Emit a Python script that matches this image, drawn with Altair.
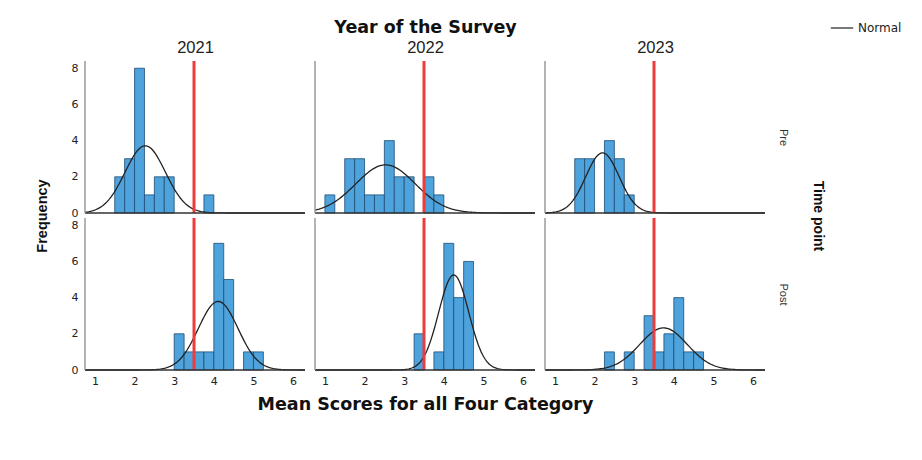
import altair as alt
import numpy as np
import pandas as pd

# ---- data ----
years = ["2021", "2022", "2023"]
times = ["Pre", "Post"]
bin_width = 0.25
cut_off = 3.5

starts_2021_pre = [1.5, 1.75, 2.0, 2.25, 2.5, 2.75, 3.75]
counts_2021_pre = [2, 3, 8, 1, 2, 2, 1]
starts_2022_pre = [1.0, 1.5, 1.75, 2.0, 2.25, 2.5, 2.75, 3.0, 3.5, 3.75]
counts_2022_pre = [1, 3, 3, 1, 1, 4, 2, 2, 2, 1]
starts_2023_pre = [1.5, 1.75, 2.25, 2.5, 2.75]
counts_2023_pre = [3, 3, 4, 3, 1]
starts_2021_post = [3.0, 3.25, 3.5, 3.75, 4.0, 4.25, 4.75, 5.0]
counts_2021_post = [2, 1, 1, 1, 7, 5, 1, 1]
starts_2022_post = [3.25, 3.75, 4.0, 4.25, 4.5]
counts_2022_post = [2, 1, 7, 4, 6]
starts_2023_post = [2.25, 2.75, 3.25, 3.5, 3.75, 4.0, 4.25, 4.5]
counts_2023_post = [1, 1, 3, 1, 2, 4, 1, 1]

# normal-fit parameters (mean, sd)
fit_mean = {("2021", "Pre"): 2.27, ("2022", "Pre"): 2.53, ("2023", "Pre"): 2.20,
            ("2021", "Post"): 4.11, ("2022", "Post"): 4.25, ("2023", "Post"): 3.74}
fit_sd = {("2021", "Pre"): 0.51, ("2022", "Pre"): 0.75, ("2023", "Pre"): 0.42,
          ("2021", "Post"): 0.50, ("2022", "Post"): 0.38, ("2023", "Post"): 0.60}

x_ticks = [1, 2, 3, 4, 5, 6]
y_ticks = [0, 2, 4, 6, 8]
x_domain = [0.75, 6.3]
y_domain = [0, 8.4]

panels = {
    ("2021", "Pre"): (starts_2021_pre, counts_2021_pre),
    ("2022", "Pre"): (starts_2022_pre, counts_2022_pre),
    ("2023", "Pre"): (starts_2023_pre, counts_2023_pre),
    ("2021", "Post"): (starts_2021_post, counts_2021_post),
    ("2022", "Post"): (starts_2022_post, counts_2022_post),
    ("2023", "Post"): (starts_2023_post, counts_2023_post),
}

XT = "Mean Scores for all Four Category"
YT = "Frequency"
COL_T = "Year of the Survey"
ROW_T = "Time point"

xscale = alt.Scale(domain=x_domain, nice=False, zero=False)
yscale = alt.Scale(domain=y_domain, nice=False)

W, H = 220, 152

legend = alt.Legend(title=None, orient="none", legendX=745, legendY=-45,
                    labelFont="DejaVu Sans", labelFontSize=12, labelColor="#222",
                    symbolType="stroke", symbolStrokeWidth=1.2, symbolSize=500,
                    labelOffset=4)


def make_panel(yr, tp):
    starts, counts = panels[(yr, tp)]
    bars_df = pd.DataFrame({"x": starts, "x2": [s + bin_width for s in starts],
                            "y": counts, "y0": [0] * len(starts)})
    n = sum(counts)
    m, sd = fit_mean[(yr, tp)], fit_sd[(yr, tp)]
    xs = np.linspace(x_domain[0], x_domain[1], 160)
    ys = n * bin_width * np.exp(-0.5 * ((xs - m) / sd) ** 2) / (sd * np.sqrt(2 * np.pi))
    curve_df = pd.DataFrame({"x": xs, "y": ys, "series": ["Normal"] * len(xs)})
    ref_df = pd.DataFrame({"x": [cut_off], "xmin": [x_domain[0]], "zero": [0]})

    show_x = tp == "Post"
    show_y = yr == "2021"
    x_title = XT if (show_x and yr == "2022") else None
    y_title = YT if (show_y and tp == "Pre") else None
    xaxis = alt.Axis(values=x_ticks, format="d", domain=False, ticks=False, grid=False,
                     labelFont="DejaVu Sans", labelFontSize=11, labelColor="#222",
                     labelPadding=5, titleFont="DejaVu Sans", titleFontSize=17.5,
                     titleFontWeight="bold", titleColor="#111", titlePadding=9) if show_x else None
    yaxis = alt.Axis(values=y_ticks, format="d", domain=False, ticks=False, grid=False,
                     labelOverlap=False, labelFont="DejaVu Sans", labelFontSize=11,
                     labelColor="#222", labelPadding=7, titleFont="Liberation Sans",
                     titleFontSize=14.5, titleFontWeight="bold", titleColor="#111",
                     titleY=H + 2.5, titleX=-43, titleAngle=270, titleBaseline="middle",
                     titleAlign="center") if show_y else None

    def X(f):
        return alt.X(f, scale=xscale, axis=xaxis, title=x_title)

    def Y(f):
        return alt.Y(f, scale=yscale, axis=yaxis, title=y_title)

    bars = alt.Chart(bars_df).mark_bar(fill="#4ea3dc", stroke="#1d4d73", strokeWidth=0.8).encode(
        x=X("x:Q"), x2="x2:Q", y=Y("y:Q"), y2="y0:Q")
    curve = alt.Chart(curve_df).mark_line(strokeWidth=1.3).encode(
        x=X("x:Q"), y=Y("y:Q"),
        color=alt.Color("series:N", scale=alt.Scale(domain=["Normal"], range=["#222222"]),
                        legend=legend))
    ref = alt.Chart(ref_df).mark_rule(color="#ee3b3b", strokeWidth=3).encode(x=X("x:Q"))
    baseline = alt.Chart(ref_df).mark_rule(color="#333333", strokeWidth=1.5).encode(y=Y("zero:Q"))
    leftline = alt.Chart(ref_df).mark_rule(color="#9a9a9a", strokeWidth=1.5).encode(x=X("xmin:Q"))

    main = alt.layer(bars, curve, ref, baseline, leftline)

    # header layer: column label on top (top row), row label on the right (last column)
    enc = {}
    resolve = {}
    if tp == "Pre":
        enc["x"] = alt.X("year:N", axis=alt.Axis(
            orient="top", domain=False, ticks=False, labelAngle=0, labelFont="Liberation Sans",
            labelFontSize=16.5, labelColor="#222", labelPadding=6,
            titleFont="DejaVu Sans", titleFontSize=17.5, titleFontWeight="bold",
            titleColor="#111", titlePadding=3),
            title=COL_T if yr == "2022" else None)
        resolve["x"] = "independent"
    if yr == "2023":
        enc["y"] = alt.Y("time:N", axis=alt.Axis(
            orient="right", domain=False, ticks=False, labelAngle=90, labelFont="Liberation Sans",
            labelFontSize=11, labelColor="#333", labelPadding=17, labelAlign="center",
            labelBaseline="middle",
            titleFont="Liberation Sans", titleFontSize=14, titleFontWeight="bold",
            titleColor="#111", titleAngle=90, titleX=52, titleY=H + 2.5,
            titleBaseline="middle", titleAlign="center"),
            title=ROW_T if tp == "Pre" else None)
        resolve["y"] = "independent"

    if enc:
        hdr_df = pd.DataFrame({"year": [yr], "time": [tp]})
        hdr = alt.Chart(hdr_df).mark_point(opacity=0).encode(**enc)
        p = alt.layer(main, hdr).resolve_scale(**resolve)
    else:
        p = main
    return p.properties(width=W, height=H)


cells = [make_panel(yr, tp) for tp in times for yr in years]

chart = alt.concat(*cells, columns=3, spacing={"row": 5, "column": 10}, bounds="flush").properties(
    padding={"left": 26, "top": 8, "right": 5, "bottom": 5},
    background="white",
).configure_view(strokeWidth=0)

chart.save("out.html", embed_options={"renderer": "svg", "actions": False})
